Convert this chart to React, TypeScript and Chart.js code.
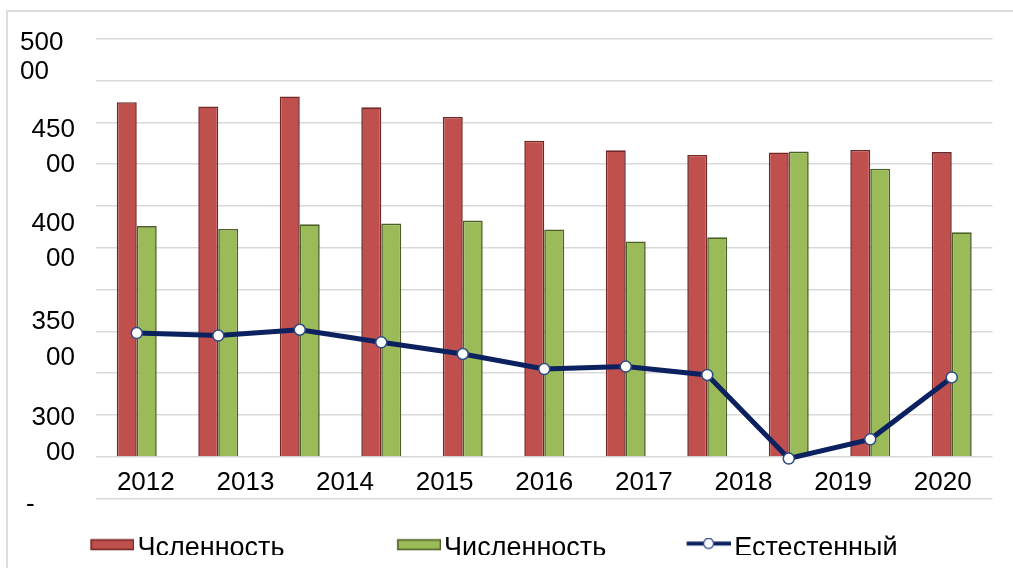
import React, { useEffect, useRef } from 'react';
import { Chart, registerables } from 'chart.js';

Chart.register(...registerables);

// ---- data ----
const dataCategories = ['2010', '2011', '2012', '2013', '2014', '2015', '2016', '2017', '2018', '2019', '2020'];
const xTickLabels = ['2012', '2013', '2014', '2015', '2016', '2017', '2018', '2019', '2020'];
const seriesNames = ['Чсленность', 'Численность', 'Естестенный'];
const redValues = [42400, 41900, 43100, 41800, 40650, 37800, 36650, 36100, 36400, 36700, 36450];
const greenValues = [27600, 27250, 27800, 27900, 28250, 27200, 25750, 26250, 36500, 34450, 26850];
const lineValues = [-352, -355, -348, -363, -377, -395, -392, -402, -502, -479, -405];
// y-axis tick labels (each wrapped line is its own tick), bottom to top
const yTickLabels = ['-     \u2006', '00', '300', '00', '350', '00', '400', '00', '450', '00   \u2006', '500 \u2006'];
const yTickValues = [-5750, 450, 4700, 11900, 16150, 23650, 27850, 34900, 39150, 46000, 49500];

const FONT_FAMILY = "'Liberation Sans', Arial, sans-serif";
const RED = '#c0504d';
const RED_BORDER = '#722827';
const GREEN = '#9bbb59';
const GREEN_BORDER = '#4c5f27';
const NAVY = '#0c2160';
const MARKER_BORDER = '#2e4a86';

const LEGEND_FONT = 27;
const LEGEND_PAD = 36.1;
const LEGEND_BOXW = 33.5; // text starts at box + 47px

function makeLegendImage(kind: 'bar' | 'line', fill: string, stroke: string) {
  const c = document.createElement('canvas');
  c.width = 54;
  c.height = 20;
  const g = c.getContext('2d')!;
  if (kind === 'bar') {
    g.fillStyle = fill;
    g.fillRect(10.25, 0.9, 44, 11);
    g.strokeStyle = stroke;
    g.lineWidth = 1.5;
    g.strokeRect(11, 1.65, 42.5, 9.5);
  } else {
    g.strokeStyle = stroke;
    g.lineWidth = 4;
    g.beginPath();
    g.moveTo(9.5, 5.2);
    g.lineTo(54, 5.2);
    g.stroke();
    g.beginPath();
    g.arc(31.5, 5.2, 5, 0, Math.PI * 2);
    g.fillStyle = '#ffffff';
    g.fill();
    g.lineWidth = 1.3;
    g.strokeStyle = MARKER_BORDER;
    g.stroke();
  }
  return c;
}

function padLabel(text: string, target: number) {
  const g = document.createElement('canvas').getContext('2d')!;
  g.font = `${LEGEND_FONT}px ${FONT_FAMILY}`;
  let best = text;
  let bestErr = Math.abs(g.measureText(text).width - target);
  for (let n = 0; n < 60; n++) {
    for (let m = 0; m < 3; m++) {
      const s = text + ' '.repeat(n) + '\u2006'.repeat(m);
      const e = Math.abs(g.measureText(s).width - target);
      if (e < bestErr) {
        bestErr = e;
        best = s;
      }
    }
  }
  return best;
}

export default function App() {
  const ref = useRef<HTMLCanvasElement | null>(null);

  useEffect(() => {
    if (!ref.current) return;
    const images = [
      makeLegendImage('bar', RED, RED_BORDER),
      makeLegendImage('bar', GREEN, GREEN_BORDER),
      makeLegendImage('line', '#fff', NAVY),
    ];
    // column spacing of the legend entries
    const legendTexts = [
      padLabel(seriesNames[0], 308 - LEGEND_PAD - 47),
      padLabel(seriesNames[1], 290 - LEGEND_PAD - 47),
      padLabel(seriesNames[2], 167.5),
    ];

    const chart = new Chart(ref.current, {
      type: 'bar',
      data: {
        labels: dataCategories,
        datasets: [
          {
            label: seriesNames[0],
            data: redValues,
            backgroundColor: RED,
            borderColor: RED_BORDER,
            borderWidth: 1.6,
            categoryPercentage: 0.49,
            barPercentage: 1,
            xAxisID: 'x',
            yAxisID: 'y',
            order: 2,
          },
          {
            label: seriesNames[1],
            data: greenValues,
            backgroundColor: GREEN,
            borderColor: GREEN_BORDER,
            borderWidth: 1.6,
            categoryPercentage: 0.49,
            barPercentage: 1,
            xAxisID: 'x',
            yAxisID: 'y',
            order: 2,
          },
          {
            type: 'line',
            label: seriesNames[2],
            data: lineValues,
            borderColor: NAVY,
            backgroundColor: '#ffffff',
            borderWidth: 5,
            tension: 0,
            pointRadius: 5.5,
            pointBackgroundColor: '#ffffff',
            pointBorderColor: MARKER_BORDER,
            pointBorderWidth: 1.5,
            xAxisID: 'x',
            yAxisID: 'y2',
            order: 0,
          } as any,
        ],
      },
      options: {
        animation: false,
        responsive: false,
        maintainAspectRatio: false,
        events: [],
        layout: { padding: { top: 38.7, left: 0, right: 20.5, bottom: 0.2 } },
        scales: {
          x: {
            type: 'category',
            display: false,
            offset: true,
          },
          xl: {
            type: 'category',
            labels: xTickLabels,
            offset: true,
            position: { y: 0 } as any,
            grid: { display: false, drawTicks: false },
            border: { display: false },
            ticks: {
              autoSkip: false,
              maxRotation: 0,
              padding: 10,
              color: '#000000',
              font: { size: 26, family: FONT_FAMILY },
            },
          },
          y: {
            type: 'linear',
            position: 'left',
            min: -5000,
            max: 50000,
            ticks: { display: false, stepSize: 5000 },
            grid: { color: '#d9d9d9', lineWidth: 1.5, drawTicks: false },
            border: { display: false },
          },
          yl: {
            type: 'linear',
            position: 'left',
            min: -5000,
            max: 50000,
            grid: { display: false, drawTicks: false },
            border: { display: false },
            afterBuildTicks: (axis: any) => {
              axis.ticks = yTickValues.map((v) => ({ value: v }));
            },
            afterFit: (axis: any) => {
              axis.width = 96;
            },
            ticks: {
              autoSkip: false,
              padding: 21,
              color: '#000000',
              font: { size: 26, family: FONT_FAMILY },
              callback: (_v: any, i: number) => yTickLabels[i],
            },
          },
          y2: {
            type: 'linear',
            display: false,
            min: -550,
            max: 0,
          },
        },
        plugins: {
          tooltip: { enabled: false },
          title: { display: false },
          legend: {
            display: true,
            position: 'bottom',
            labels: {
              usePointStyle: true,
              pointStyleWidth: LEGEND_BOXW,
              boxHeight: 12,
              padding: LEGEND_PAD,
              color: '#000000',
              font: { size: LEGEND_FONT, family: FONT_FAMILY },
              generateLabels: (c: any) =>
                c.data.datasets.map((ds: any, i: number) => ({
                  text: legendTexts[i],
                  fillStyle: ds.backgroundColor,
                  strokeStyle: ds.borderColor,
                  lineWidth: 0,
                  pointStyle: images[i],
                  hidden: false,
                  datasetIndex: i,
                  fontColor: '#000000',
                })),
            },
          },
        },
      },
    });
    return () => chart.destroy();
  }, []);

  return (
    <div style={{ position: 'fixed', left: 0, top: 0, width: 1013, height: 568, overflow: 'hidden', background: '#ffffff' }}>
      <div
        style={{
          position: 'absolute',
          left: 6,
          top: 10,
          width: 1200,
          height: 800,
          border: '2px solid #dedede',
          boxSizing: 'border-box',
        }}
      />
      <div style={{ position: 'absolute', left: 0, top: 0, width: 1013, height: 555, overflow: 'hidden' }}>
        <canvas ref={ref} width={1013} height={572} style={{ width: 1013, height: 572, display: 'block' }} />
      </div>
    </div>
  );
}
